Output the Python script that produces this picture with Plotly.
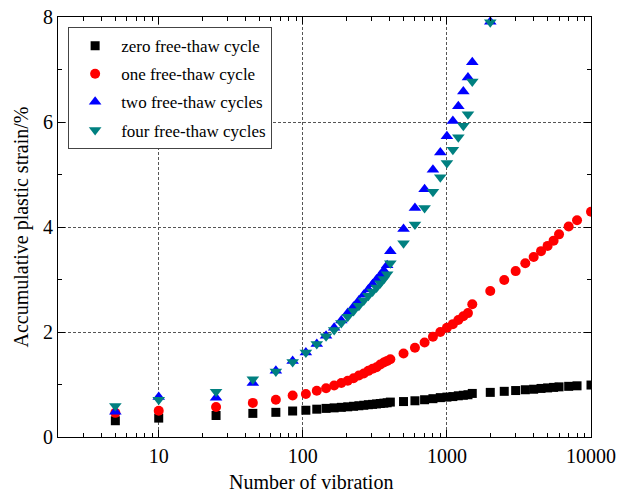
import plotly.graph_objects as go

# Number of vibration cycles at which strain was recorded
vibrations = [5, 10, 25, 45, 65, 85, 105, 125, 145, 165, 185, 205, 225, 245, 265,
              285, 305, 325, 345, 365, 385, 405, 500, 600, 700, 800, 900, 1000,
              1100, 1200, 1300, 1400, 1500, 2000, 2500, 3000, 3500, 4000, 4500,
              5000, 5500, 6000, 7000, 8000, 10000]

# Accumulative plastic strain (%) for each freeze-thaw condition
strain_zero = [0.31, 0.36, 0.41, 0.45, 0.47, 0.495, 0.51, 0.53, 0.545, 0.555, 0.565,
               0.575, 0.585, 0.595, 0.605, 0.615, 0.622, 0.63, 0.638, 0.645, 0.652,
               0.665, 0.675, 0.69, 0.71, 0.73, 0.75, 0.76, 0.77, 0.785, 0.795, 0.805,
               0.83, 0.85, 0.87, 0.885, 0.90, 0.91, 0.925, 0.935, 0.945, 0.955,
               0.965, 0.975, 0.99]
strain_one = [0.46, 0.50, 0.57, 0.65, 0.71, 0.79, 0.82, 0.88, 0.93, 0.98, 1.03, 1.07,
              1.12, 1.17, 1.21, 1.26, 1.30, 1.33, 1.38, 1.42, 1.45, 1.48, 1.59, 1.70,
              1.80, 1.91, 2.00, 2.08, 2.15, 2.23, 2.30, 2.36, 2.53, 2.78, 2.99, 3.16,
              3.31, 3.43, 3.54, 3.64, 3.74, 3.86, 4.01, 4.13, 4.29]
strain_two = [0.48, 0.76, 0.75, 1.03, 1.26, 1.45, 1.61, 1.77, 1.93, 2.08, 2.22, 2.36,
              2.48, 2.60, 2.71, 2.81, 2.91, 3.00, 3.08, 3.17, 3.27, 3.54, 3.96, 4.36,
              4.72, 5.09, 5.42, 5.73, 6.02, 6.30, 6.58, 6.85, 7.14, 7.91]
strain_four = [0.59, 0.71, 0.86, 1.10, 1.25, 1.43, 1.61, 1.77, 1.92, 2.04, 2.17, 2.29,
               2.40, 2.50, 2.60, 2.69, 2.77, 2.85, 2.93, 3.01, 3.10, 3.31, 3.69, 4.05,
               4.36, 4.67, 4.95, 5.22, 5.47, 5.71, 5.93, 6.15, 6.77, 7.90]

series = [
    ("zero free-thaw cycle", vibrations, strain_zero, "square", "#000000", 9),
    ("one free-thaw cycle", vibrations, strain_one, "circle", "#FF0000", 10),
    ("two free-thaw cycles", vibrations[:len(strain_two)], strain_two, "triangle-up", "#0000FF", 11),
    ("four free-thaw cycles", vibrations[:len(strain_four)], strain_four, "triangle-down", "#008080", 11),
]

FONT = "Liberation Serif"

fig = go.Figure()
for i, (name, xs, ys, sym, col, size) in enumerate(series):
    fig.add_trace(go.Scatter(
        x=xs, y=ys, mode="markers", name=name, legendgroup=f"g{i}",
        marker=dict(symbol=sym, color=col, size=size, line=dict(width=0)),
    ))

axis_common = dict(
    showline=True, linecolor="black", linewidth=1.2, mirror="ticks",
    ticks="inside", ticklen=7, tickcolor="black", tickwidth=1,
    showgrid=True, gridcolor="#555555", gridwidth=1, griddash="3px,2px",
    zeroline=False, automargin=False,
    tickfont=dict(family=FONT, size=20, color="black"),
    title_font=dict(family=FONT, size=20, color="black"),
)

fig.update_xaxes(
    type="log", range=[0.301, 4.0],
    tickvals=[10, 100, 1000, 10000], ticktext=["10", "100", "1000", "10000"],
    minor=dict(ticks="inside", ticklen=4, tickcolor="black", showgrid=False,
               tickvals=[2, 3, 4, 5, 6, 7, 8, 9, 20, 30, 40, 50, 60, 70, 80, 90,
                         200, 300, 400, 500, 600, 700, 800, 900,
                         2000, 3000, 4000, 5000, 6000, 7000, 8000, 9000]),
    ticklabelstandoff=1,
    **axis_common,
)
fig.update_yaxes(
    range=[0, 8], dtick=2,
    minor=dict(ticks="inside", ticklen=4, tickcolor="black", dtick=1, showgrid=False),
    title=dict(text="Accumulative plastic strain/%", standoff=8),
    **axis_common,
)

# x-axis title, placed slightly left of the plot centre
fig.add_annotation(
    text="Number of vibration", xref="paper", yref="paper",
    x=0.475, y=-0.107, xanchor="center", yanchor="middle", showarrow=False,
    font=dict(family=FONT, size=20, color="black"),
)

fig.update_layout(
    width=617, height=495,
    margin=dict(l=58, r=26, t=17, b=58),
    paper_bgcolor="white", plot_bgcolor="white",
    font=dict(family=FONT, color="black"),
    legend=dict(
        x=0.019, y=0.976, xanchor="left", yanchor="top",
        bgcolor="white", bordercolor="#444444", borderwidth=1,
        font=dict(family=FONT, size=17, color="black"),
        tracegroupgap=3, itemwidth=42,
    ),
)

fig.write_html("out.html")
